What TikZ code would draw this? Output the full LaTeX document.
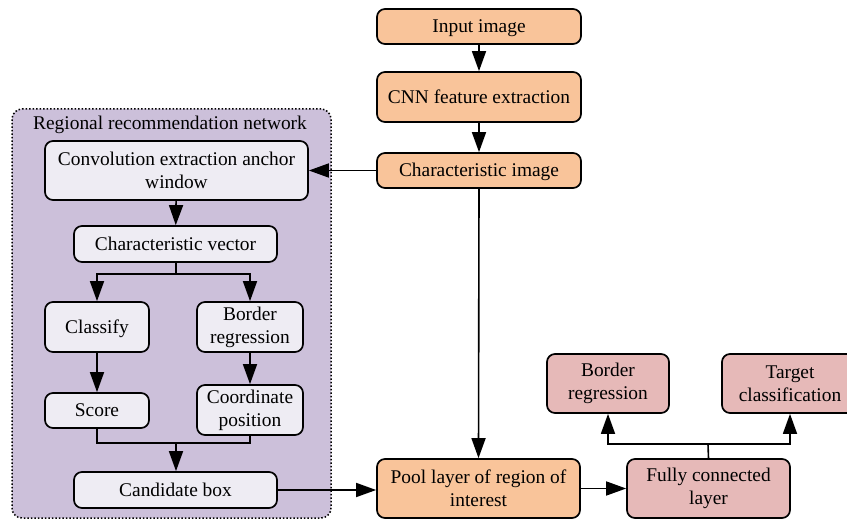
\documentclass[tikz,border=0pt]{standalone}
\usepackage{fontspec}
\setmainfont{Liberation Serif}
\usetikzlibrary{arrows.meta}
\definecolor{orangefill}{HTML}{F9C49A}
\definecolor{pinkfill}{HTML}{E6B9B8}
\definecolor{panelfill}{HTML}{CCC0DA}
\definecolor{innerfill}{HTML}{EEECF3}
\tikzset{
  box/.style={draw=black, line width=1.7pt, rounded corners=8pt, align=center, inner sep=0pt,
    font=\fontsize{19.4}{23}\selectfont},
  oneline/.style={text height=13.3pt, text depth=1.2pt},
  obox/.style={box, fill=orangefill},
  pbox/.style={box, fill=pinkfill},
  ibox/.style={box, fill=innerfill},
  conn/.style={line width=1.6pt, draw=black},
  arr/.style={conn, -{Triangle[length=20pt,width=14pt]}},
}
\begin{document}
\begin{tikzpicture}[x=1pt,y=-1pt]
\useasboundingbox (0,0) rectangle (847,519);
\clip (0,0) rectangle (847,519);
% panel
\node[draw=black, line width=1.5pt, dotted, fill=panelfill, rounded corners=10pt,
  minimum width=319pt, minimum height=409pt, inner sep=0pt] (panel) at (171.5,313.5) {};
\node[font=\fontsize{19.4}{23}\selectfont, anchor=center] (ptitle) at (170,125) {Regional recommendation network};
% right column
\node[obox, oneline, minimum width=204pt, minimum height=35pt] (input) at (479,26.5) {Input image};
\node[obox, oneline, minimum width=204pt, minimum height=50pt] (cnn) at (479,97) {CNN feature extraction};
\node[obox, oneline, minimum width=204pt, minimum height=35pt] (charimg) at (479,170.5) {Characteristic image};
\node[obox, minimum width=203pt, minimum height=59pt] (pool) at (478.5,488.5) {Pool layer of region of\\interest};
\node[pbox, minimum width=163pt, minimum height=59pt] (fc) at (708.5,488.5) {Fully connected\\layer};
\node[pbox, minimum width=122pt, minimum height=59pt] (br2) at (608,383.5) {Border\\regression};
\node[pbox, minimum width=136pt, minimum height=59pt] (tc) at (790,383.5) {Target\\classification};
% inner nodes
\node[ibox, minimum width=263pt, minimum height=59pt] (conv) at (176.5,170.5) {Convolution extraction anchor\\window};
\node[ibox, oneline, minimum width=203pt, minimum height=36pt] (cv) at (175.5,244) {Characteristic vector};
\node[ibox, oneline, minimum width=104pt, minimum height=50pt] (cls) at (97,327) {Classify};
\node[ibox, minimum width=106pt, minimum height=50pt] (br1) at (250,327) {Border\\regression};
\node[ibox, oneline, minimum width=104pt, minimum height=35pt] (score) at (97,410.5) {Score};
\node[ibox, minimum width=106pt, minimum height=50pt] (coord) at (250,410) {Coordinate\\position};
\node[ibox, oneline, minimum width=203pt, minimum height=36pt] (cand) at (175.5,490) {Candidate box};
% coordinates
\coordinate (split1) at (176,274);
\coordinate (join1) at (176,443);
\coordinate (split2) at (708,444);
% connectors
\draw[arr] (input) -- (cnn);
\draw[arr] (cnn) -- (charimg);
\draw[arr] (charimg.west) -- (conv.east);
\draw[arr] (charimg.south) -- (pool.north);
\draw[arr] (conv) -- (cv);
\draw[conn] (cv.south -| split1) -- (split1);
\draw[arr] (split1) -| (cls.north);
\draw[arr] (split1) -| (br1.north);
\draw[arr] (cls) -- (score);
\draw[arr] (br1) -- (coord);
\draw[conn] (score.south) |- (join1) -| (coord.south);
\draw[arr] (join1) -- (cand.north -| join1);
\draw[arr] (cand.east) -- (pool.west |- cand.east);
\draw[arr] (pool.east) -- (fc.west);
\draw[conn] (fc.north) -- (split2);
\draw[arr] (split2) -| (br2.south);
\draw[arr] (split2) -| (tc.south);
\end{tikzpicture}
\end{document}
